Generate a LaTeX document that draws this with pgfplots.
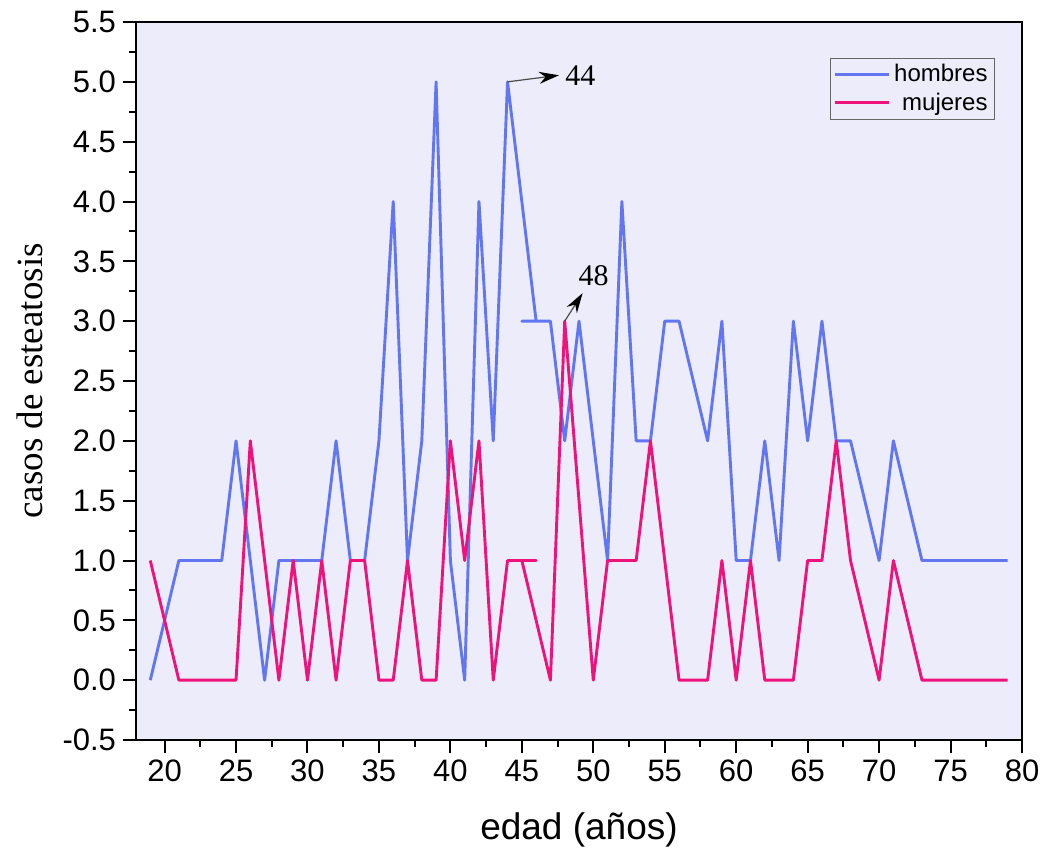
\documentclass[border=0pt]{standalone}
\usepackage{fontspec}
\setmainfont{Liberation Sans}
\newfontfamily\serifa{Liberation Serif}
\usepackage{pgfplots}
\pgfplotsset{compat=1.18}
\usetikzlibrary{arrows.meta,calc}
\definecolor{hblue}{RGB}{98,118,242}
\definecolor{mpink}{RGB}{238,18,122}
\definecolor{bgpl}{RGB}{236,236,250}

\begin{document}
\begin{tikzpicture}
\begin{axis}[
    scale only axis,
    width=443pt, height=359pt,
    xmin=18, xmax=80,
    ymin=-0.5, ymax=5.5,
    xtick={20,25,30,35,40,45,50,55,60,65,70,75,80},
    ytick={-0.5,0,0.5,1,1.5,2,2.5,3,3.5,4,4.5,5,5.5},
    minor x tick num=1,
    minor y tick num=1,
    tick align=outside,
    tick pos=left,
    major tick length=6.5pt,
    minor tick length=3.5pt,
    every tick/.style={black, line width=1pt},
    axis line style={line width=1.2pt},
    axis background/.style={fill=bgpl},
    /pgf/number format/assume math mode=true,
    yticklabel style={/pgf/number format/.cd, fixed, fixed zerofill, precision=1},
    ticklabel style={font=\fontsize{15.5}{18}\selectfont},
    xlabel={edad (años)},
    ylabel={casos de esteatosis},
    xlabel style={font=\fontsize{18.5}{22}\selectfont, at={(axis description cs:0.5,-0.1253)}, anchor=center},
    ylabel style={font=\serifa\fontsize{18.5}{22}\selectfont, at={(axis description cs:-0.1196,0.5)}, anchor=center},
    legend style={at={(0.9695,0.95)}, anchor=north east, draw=gray!80!black, fill=bgpl,
        font=\fontsize{12}{14}\selectfont, cells={anchor=east}, row sep=0pt,
        inner xsep=1.5pt, inner ysep=1pt},
    legend image code/.code={\draw[#1] (0pt,0pt) -- (27pt,0pt);},
    every axis plot/.append style={line width=1.45pt, line join=round},
]

\addplot[color=hblue] coordinates {
    (19,0)(21,1)(22,1)(23,1)(24,1)(25,2)(26,1)(27,0)(28,1)(29,1)(30,1)(31,1)
    (32,2)(33,1)(34,1)(35,2)(36,4)(37,1)(38,2)(39,5)(40,1)(41,0)(42,4)(43,2)
    (44,5)(46,3)(45,3)(47,3)(48,2)(49,3)(50,2)(51,1)(52,4)(53,2)(54,2)(55,3)
    (56,3)(57,2.5)(58,2)(59,3)(60,1)(61,1)(62,2)(63,1)(64,3)(65,2)(66,3)(67,2)
    (68,2)(69,1.5)(70,1)(71,2)(72,1.5)(73,1)(74,1)(75,1)(76,1)(77,1)(78,1)(79,1)
};
\addlegendentry{hombres}

\addplot[color=mpink] coordinates {
    (19,1)(21,0)(22,0)(23,0)(24,0)(25,0)(26,2)(27,1)(28,0)(29,1)(30,0)(31,1)
    (32,0)(33,1)(34,1)(35,0)(36,0)(37,1)(38,0)(39,0)(40,2)(41,1)(42,2)(43,0)
    (44,1)(46,1)(45,1)(47,0)(48,3)(49,1.5)(50,0)(51,1)(52,1)(53,1)(54,2)(55,1)
    (56,0)(57,0)(58,0)(59,1)(60,0)(61,1)(62,0)(63,0)(64,0)(65,1)(66,1)(67,2)
    (68,1)(69,0.5)(70,0)(71,1)(72,0.5)(73,0)(74,0)(75,0)(76,0)(77,0)(78,0)(79,0)
};
\addlegendentry{mujeres}

\draw[gray!60!black, line width=0.6pt, -{Stealth[length=10pt, width=6pt, black]}]
    (axis cs:44,5) -- (axis cs:47.6,5.055);
\node[font=\serifa\fontsize{15}{18}\selectfont] at (axis cs:49.1,5.055) {44};
\draw[gray!60!black, line width=0.6pt, -{Stealth[length=10pt, width=6pt, black]}]
    (axis cs:48,3) -- (axis cs:49.25,3.234);
\node[font=\serifa\fontsize{15}{18}\selectfont] at (axis cs:50.03,3.38) {48};

\end{axis}
\pgfresetboundingbox
\useasboundingbox ($(current axis.south west)+(-68pt,-56pt)$) rectangle ($(current axis.north east)+(9.5pt,11pt)$);
\end{tikzpicture}
\end{document}
